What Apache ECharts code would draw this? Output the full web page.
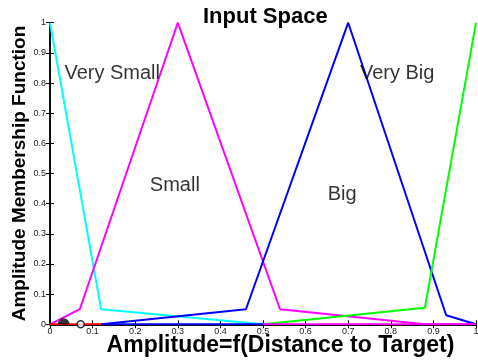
<!DOCTYPE html>
<html>
<head>
<meta charset="utf-8">
<script src="https://cdn.jsdelivr.net/npm/echarts@6/dist/echarts.min.js"></script>
<style>
  html, body { margin: 0; padding: 0; background: #fff; }
  #chart { width: 478px; height: 361px; }
</style>
</head>
<body>
<div id="chart"></div>
<script>
// --- data ---
const veryS = [[0, 1], [0.12, 0.05], [0.5, 0]];
const small = [[0, 0], [0.07, 0.05], [0.3, 1], [0.54, 0.05], [0.88, 0], [1, 0]];
const big = [[0.12, 0], [0.46, 0.05], [0.7, 1], [0.93, 0.03], [1, 0]];
const veryB = [[0.5, 0], [0.88, 0.055], [1, 1]];
// segments lying on the zero line
const redBase = [[0, 0], [0.12, 0]];
const blueBase = [[0.12, 0], [0.5, 0]];
const magBase = [[0.5, 0], [1, 0]];
const filledPt = [[0.032, 0]];
const openPt = [[0.072, 0]];
const setLabels = [
  [0.146, 0.833, 'Very Small'],
  [0.293, 0.459, 'Small'],
  [0.686, 0.432, 'Big'],
  [0.815, 0.833, 'Very Big']
];

const FONT = 'Liberation Sans, Arial, sans-serif';

function lineSeries(data, color, z) {
  return {
    type: 'line',
    data: data,
    symbol: 'none',
    z: z || 2,
    lineStyle: { color: color, width: 2 },
    animation: false
  };
}

const axisCommon = {
  type: 'value',
  min: 0,
  max: 1,
  interval: 0.1,
  splitLine: { show: false },
  axisLine: { show: true, lineStyle: { color: '#000', width: 1.5 } },
  axisTick: { show: true, inside: true, length: 4, lineStyle: { color: '#000' } }
};

const chart = echarts.init(document.getElementById('chart'));
chart.setOption({
  animation: false,
  title: {
    text: 'Input Space',
    left: 198,
    top: 1,
    textStyle: { fontFamily: FONT, fontSize: 22, fontWeight: 'bold', color: '#000' }
  },
  grid: { left: 50, right: 2, top: 22.7, bottom: 36.7, containLabel: false, outerBoundsMode: 'none' },
  xAxis: [
    Object.assign({}, axisCommon, {
      position: 'bottom',
      name: 'Amplitude=f(Distance to Target)',
      nameLocation: 'middle',
      nameGap: 10,
      nameMoveOverlap: false,
      nameTextStyle: { fontFamily: FONT, fontSize: 23, fontWeight: 'bold', color: '#000', padding: [0, 0, 0, 35] },
      axisLabel: { fontFamily: FONT, fontSize: 9, color: '#222', margin: 3,
        formatter: v => String(Math.round(v * 10) / 10) }
    }),
    Object.assign({}, axisCommon, { position: 'top', axisLabel: { show: false } })
  ],
  yAxis: [
    Object.assign({}, axisCommon, {
      position: 'left',
      name: 'Amplitude Membership Function',
      nameLocation: 'middle',
      nameGap: 21,
      nameMoveOverlap: false,
      nameTextStyle: { fontFamily: FONT, fontSize: 19, fontWeight: 'bold', color: '#000' },
      axisLabel: { fontFamily: FONT, fontSize: 9, color: '#222', margin: 4,
        formatter: v => String(Math.round(v * 10) / 10) }
    }),
    Object.assign({}, axisCommon, { position: 'right', axisLabel: { show: false } })
  ],
  series: [
    lineSeries(redBase, '#ff0000', 3),
    lineSeries(blueBase, '#0000ff', 3),
    lineSeries(magBase, '#ff00ff', 3),
    lineSeries(veryS, '#00ffff'),
    lineSeries(small, '#ff00ff'),
    lineSeries(big, '#0000ff'),
    lineSeries(veryB, '#00ff00'),
    {
      type: 'scatter',
      data: filledPt,
      symbol: 'path://M0,10 A10,10 0 0 1 20,10 Z',
      symbolSize: [12, 6],
      symbolOffset: [0, -3],
      itemStyle: { color: '#000' },
      z: 5
    },
    {
      type: 'scatter',
      data: openPt,
      symbol: 'circle',
      symbolSize: 7,
      itemStyle: { color: '#fff', borderColor: '#000', borderWidth: 1.5 },
      z: 5
    },
    {
      type: 'scatter',
      data: setLabels,
      symbolSize: 0,
      label: {
        show: true,
        position: 'inside',
        formatter: p => p.data[2],
        fontFamily: FONT,
        fontSize: 20,
        color: '#000',
        textBorderWidth: 0
      },
      z: 6
    }
  ]
});
</script>
</body>
</html>
